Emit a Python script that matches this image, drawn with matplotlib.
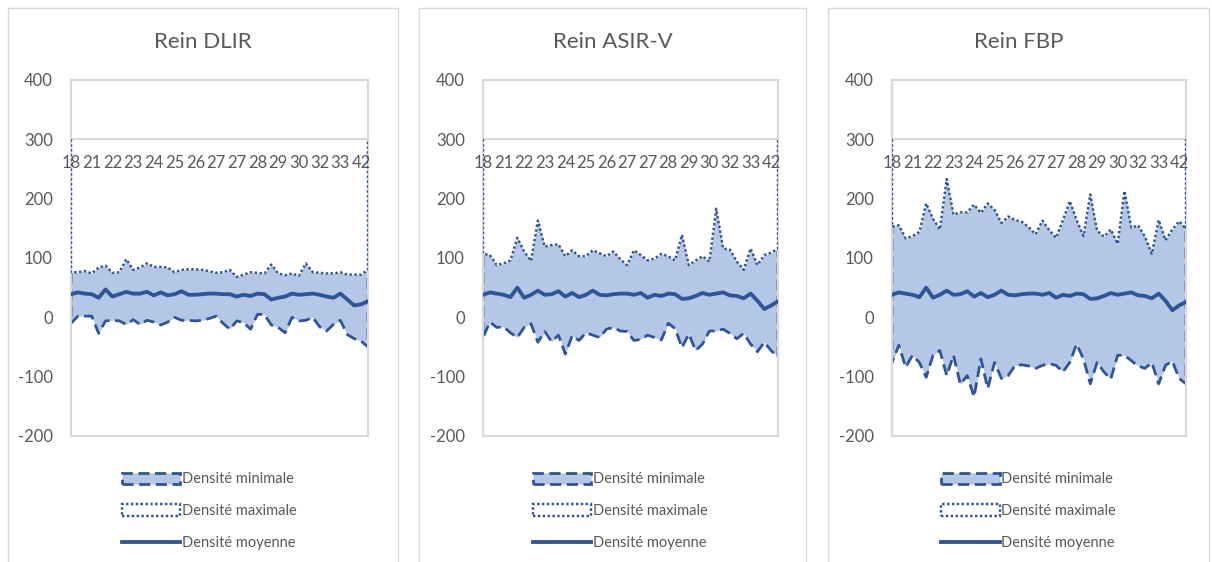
import matplotlib
matplotlib.use('Agg')
import matplotlib.pyplot as plt
from matplotlib.patches import Patch, Rectangle
from matplotlib.lines import Line2D
import numpy as np

plt.rcParams['font.family'] = ['Lato', 'DejaVu Sans']
plt.rcParams['axes.unicode_minus'] = False

# Categories (one per patient, every 3rd label is shown by the chart)
categories = [18, 19, 20, 21, 21, 22, 22, 22, 23, 23, 23, 24, 24, 24, 25, 25, 25, 25, 26, 26, 26, 27,
              27, 27, 27, 27, 28, 28, 28, 29, 29, 29, 29, 30, 30, 31, 32, 32, 32, 33, 35, 38, 42, 45]

# Rein DLIR
dlir_min = [-10, 2, 2, 2, -27, -6, -5, -6, -12, -4, -12, -5, -8, -13, -8, 0, -5, -5, -6, -5, -2, 2,
            -10, -20, -6, -9, -20, 5, 5, -13, -17, -26, 0, -6, -5, 0, -16, -23, -12, -5, -29, -36, -40, -50]
dlir_max = [76, 76, 78, 74, 84, 87, 75, 76, 98, 80, 84, 91, 85, 85, 84, 76, 80, 81, 81, 80, 78, 75,
            76, 80, 68, 72, 76, 75, 74, 89, 74, 71, 74, 70, 91, 76, 75, 74, 74, 76, 72, 72, 72, 80]
dlir_mean = [39, 42, 40, 39, 33, 47, 35, 39, 43, 40, 40, 43, 37, 42, 37, 39, 44, 38, 38, 39, 40, 40,
             39, 39, 35, 38, 36, 40, 39, 30, 33, 35, 40, 38, 39, 40, 38, 35, 33, 40, 30, 20, 22, 27]

# Rein ASIR-V
asir_min = [-34, -8, -17, -16, -26, -34, -17, -11, -42, -24, -41, -30, -62, -31, -39, -26, -30, -34, -20, -17, -23, -24,
            -39, -37, -30, -34, -38, -10, -19, -51, -28, -56, -45, -23, -23, -20, -27, -36, -27, -45, -58, -42, -56, -67]
asir_max = [107, 105, 88, 91, 96, 134, 111, 95, 163, 119, 122, 123, 103, 113, 103, 103, 113, 108, 103, 111, 98, 88,
            113, 105, 96, 99, 107, 103, 96, 139, 88, 96, 103, 94, 183, 116, 114, 94, 80, 116, 88, 105, 109, 116]
asir_mean = [38, 42, 40, 38, 34, 50, 33, 38, 45, 38, 39, 44, 35, 41, 34, 38, 45, 38, 37, 39, 40, 40,
             38, 41, 33, 38, 36, 40, 39, 31, 32, 36, 41, 38, 40, 42, 37, 36, 32, 40, 28, 14, 20, 27]

# Rein FBP
fbp_min = [-76, -47, -84, -64, -76, -101, -64, -56, -98, -64, -113, -98, -134, -70, -120, -76, -103, -98, -81, -80, -82, -86,
           -81, -78, -81, -92, -76, -45, -70, -112, -76, -92, -104, -64, -64, -73, -82, -86, -76, -112, -81, -74, -103, -112]
fbp_max = [153, 155, 133, 137, 144, 192, 166, 148, 233, 173, 177, 177, 190, 176, 192, 181, 159, 170, 164, 161, 152, 140,
           163, 147, 134, 164, 196, 164, 137, 207, 146, 136, 148, 124, 213, 151, 155, 136, 107, 164, 130, 148, 162, 149]
fbp_mean = [38, 42, 40, 38, 34, 50, 33, 38, 45, 38, 39, 44, 35, 41, 34, 38, 45, 38, 37, 39, 40, 40,
            38, 41, 33, 38, 36, 40, 39, 31, 32, 36, 41, 38, 40, 42, 37, 36, 32, 40, 28, 12, 20, 26]

titles = ['Rein DLIR', 'Rein ASIR-V', 'Rein FBP']
series = [(dlir_min, dlir_max, dlir_mean), (asir_min, asir_max, asir_mean), (fbp_min, fbp_max, fbp_mean)]
labels = ['Densité minimale', 'Densité maximale', 'Densité moyenne']

# Colors
fill_col = '#B4C7E7'
line_col = '#2F5597'
text_col = '#595959'
grid_col = '#D9D9D9'

W, H = 1212, 562
fig = plt.figure(figsize=(W / 100, H / 100), dpi=100)

# pixel boxes: chart frame and plot area
frames = [(8, 398), (419, 806), (828, 1209)]
plot_x = [(71, 368), (483, 778), (892, 1186)]
plot_top, plot_bottom = 80, 436

x = np.arange(len(categories))
cross = 300  # horizontal axis crosses at 300

for i in range(3):
    fx0, fx1 = frames[i]
    fig.patches.append(Rectangle((fx0 / W, -0.1), (fx1 - fx0) / W, 1.1 - 8 / H, transform=fig.transFigure,
                                 fill=False, edgecolor=grid_col, lw=1))
    fig.text((fx0 + fx1) / 2 / W, 1 - 42 / H, titles[i], ha='center', va='center', fontsize=16, color=text_col)

    px0, px1 = plot_x[i]
    ax = fig.add_axes([px0 / W, 1 - plot_bottom / H, (px1 - px0) / W, (plot_bottom - plot_top) / H])
    mn, mx, mean = series[i]

    # minimum area (blue) from min up to the axis crossing
    ax.fill_between(x, mn, cross, color=fill_col, lw=0, zorder=1)
    ax.plot(np.r_[x[0], x, x[-1]], np.r_[cross, mn, cross], color=line_col, lw=2, ls=(0, (4, 2)), zorder=1.5)
    # maximum area (white) from max up to the crossing hides the top part
    ax.fill_between(x, mx, cross, color='white', lw=0, zorder=2)
    ax.plot(np.r_[x[0], x, x[-1]], np.r_[cross, mx, cross], color=line_col, lw=1.75, ls=(0, (1, 1)), zorder=3)
    # mean line
    ax.plot(x, mean, color=line_col, lw=2.75, solid_joinstyle='round', zorder=4)

    ax.set_xlim(0, len(categories) - 1)
    ax.set_ylim(-200, 400)
    ax.set_yticks(range(-200, 401, 100))
    ax.set_xticks(x[::3])
    ax.set_xticklabels(categories[::3])
    ax.set_axisbelow(False)
    ax.tick_params(axis='both', length=0, labelsize=12, labelcolor=text_col)
    ax.tick_params(axis='y', pad=13)
    ax.tick_params(axis='x', pad=11)

    for s in ['left', 'right', 'top']:
        ax.spines[s].set_color(grid_col)
        ax.spines[s].set_linewidth(1.5)
    ax.spines['bottom'].set_position(('data', cross))
    ax.spines['bottom'].set_color(grid_col)
    ax.spines['bottom'].set_linewidth(1.5)
    ax.add_patch(Rectangle((0, 0), 1, 1, transform=ax.transAxes, fill=False, edgecolor=grid_col,
                           lw=1.5, clip_on=False, zorder=0.5))

    # legend
    handles = [Patch(facecolor=fill_col, edgecolor=line_col, lw=2, ls=(0, (4, 2))),
               Patch(facecolor='white', edgecolor=line_col, lw=1.75, ls=(0, (1, 1))),
               Line2D([0], [0], color=line_col, lw=2.75)]
    ax.legend(handles, labels, loc='upper center', bbox_to_anchor=(0.465, -0.065), frameon=False,
              fontsize=10.5, labelcolor=text_col, handlelength=4.0, handleheight=0.8,
              handletextpad=0.1, labelspacing=1.22)

plt.savefig('out.png', dpi=100)
